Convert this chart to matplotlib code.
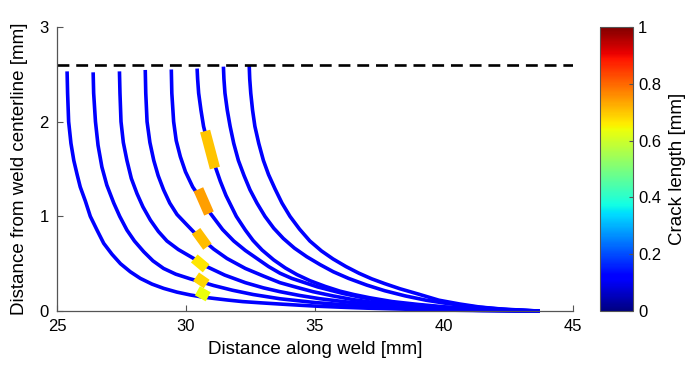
import numpy as np
import matplotlib
matplotlib.use("Agg")
import matplotlib.pyplot as plt
from matplotlib.collections import LineCollection
from matplotlib.colors import Normalize

plt.rcParams['font.family'] = ['Liberation Sans', 'DejaVu Sans']

# ---- data ----
c1_x = [25.39, 25.41, 25.45, 25.54, 25.65, 25.78, 25.90, 26.10, 26.29, 26.55, 26.81, 27.13, 27.46, 27.84, 28.23,
        28.68, 29.13, 29.65, 30.17, 30.60, 31.07, 31.6, 32.2, 32.9, 33.6, 34.4, 35.2, 36.1, 37.0, 38.5, 40.0, 41.5, 43.7]
c1_y = [2.53, 2.30, 2.00, 1.77, 1.59, 1.44, 1.31, 1.16, 1.00, 0.855, 0.715, 0.60, 0.50, 0.415, 0.345,
        0.285, 0.24, 0.20, 0.17, 0.15, 0.134, 0.117, 0.10, 0.087, 0.075, 0.062, 0.05, 0.04, 0.031, 0.02, 0.011, 0.005, 0.0]
c2_x = [26.40, 26.42, 26.49, 26.59, 26.74, 26.93, 27.20, 27.43, 27.71, 28.00, 28.36, 28.72, 29.13, 29.60, 30.17,
        30.70, 31.07, 31.8, 32.6, 33.64, 35.0, 36.8, 38.5, 40.0, 41.5, 43.7]
c2_y = [2.52, 2.30, 2.00, 1.75, 1.52, 1.33, 1.14, 1.00, 0.855, 0.74, 0.627, 0.53, 0.45, 0.39, 0.34,
        0.30, 0.27, 0.22, 0.175, 0.13, 0.09, 0.053, 0.03, 0.016, 0.007, 0.0]
c3_x = [27.42, 27.44, 27.48, 27.57, 27.71, 27.88, 28.10, 28.33, 28.62, 28.93, 29.26, 29.70, 30.30, 30.80, 31.50,
        32.30, 33.0, 33.64, 34.4, 35.2, 36.1, 37.0, 38.5, 40.0, 41.5, 43.7]
c3_y = [2.53, 2.30, 2.00, 1.78, 1.59, 1.40, 1.24, 1.10, 0.96, 0.84, 0.74, 0.65, 0.555, 0.47, 0.38,
        0.30, 0.245, 0.205, 0.165, 0.13, 0.10, 0.075, 0.045, 0.024, 0.01, 0.0]
c4_x = [28.42, 28.44, 28.49, 28.60, 28.75, 28.92, 29.13, 29.37, 29.65, 30.00, 30.30, 30.60, 31.07, 31.59, 32.30,
        33.0, 33.64, 34.3, 34.92, 35.7, 36.5, 37.3, 38.5, 40.0, 41.5, 43.7]
c4_y = [2.545, 2.30, 2.00, 1.78, 1.59, 1.43, 1.28, 1.14, 1.02, 0.92, 0.835, 0.765, 0.655, 0.555, 0.45,
        0.37, 0.30, 0.25, 0.205, 0.16, 0.12, 0.09, 0.06, 0.03, 0.012, 0.0]
c5_x = [29.43, 29.45, 29.52, 29.62, 29.78, 29.98, 30.26, 30.66, 30.95, 31.42, 31.85, 32.30, 32.75, 33.2, 33.64,
        34.1, 34.6, 35.1, 35.6, 36.1, 36.7, 37.3, 38.0, 39.0, 40.0, 41.5, 43.7]
c5_y = [2.55, 2.30, 2.00, 1.80, 1.63, 1.47, 1.31, 1.15, 1.03, 0.86, 0.74, 0.64, 0.555, 0.47, 0.40,
        0.345, 0.30, 0.255, 0.22, 0.185, 0.15, 0.12, 0.09, 0.062, 0.04, 0.016, 0.0]
c6_x = [30.43, 30.45, 30.49, 30.58, 30.68, 30.80, 30.93, 31.05, 31.33, 31.55, 31.95, 32.30, 32.60, 32.95, 33.4,
        33.85, 34.3, 34.81, 35.4, 35.97, 36.5, 37.13, 38.0, 39.0, 40.0, 41.5, 43.7]
c6_y = [2.56, 2.45, 2.30, 2.12, 1.95, 1.82, 1.705, 1.59, 1.37, 1.22, 1.00, 0.855, 0.745, 0.644, 0.54,
        0.455, 0.385, 0.32, 0.26, 0.21, 0.175, 0.14, 0.10, 0.07, 0.045, 0.02, 0.0]
c7_x = [31.45, 31.47, 31.51, 31.60, 31.71, 31.85, 32.03, 32.25, 32.48, 32.75, 33.06, 33.4, 33.77, 34.2, 34.68,
        35.2, 35.71, 36.3, 37.0, 37.7, 38.5, 39.3, 40.0, 41.0, 42.0, 43.7]
c7_y = [2.58, 2.45, 2.30, 2.12, 1.95, 1.77, 1.59, 1.43, 1.28, 1.14, 1.00, 0.875, 0.767, 0.665, 0.574,
        0.49, 0.415, 0.345, 0.275, 0.215, 0.16, 0.115, 0.085, 0.05, 0.025, 0.0]
c8_x = [32.45, 32.47, 32.51, 32.58, 32.67, 32.82, 33.00, 33.20, 33.45, 33.72, 34.03, 34.4, 34.8, 35.25, 35.7,
        36.2, 36.7, 37.2, 37.7, 38.3, 39.0, 39.8, 40.6, 41.4, 42.5, 43.7]
c8_y = [2.59, 2.45, 2.30, 2.12, 1.95, 1.77, 1.59, 1.44, 1.29, 1.14, 1.00, 0.865, 0.74, 0.635, 0.55,
        0.47, 0.40, 0.34, 0.29, 0.235, 0.18, 0.115, 0.075, 0.042, 0.015, 0.0]

curve_x = [c1_x, c2_x, c3_x, c4_x, c5_x, c6_x, c7_x, c8_x]
curve_y = [c1_y, c2_y, c3_y, c4_y, c5_y, c6_y, c7_y, c8_y]

# crack segments: start/end points and crack length [mm]
crack_x0 = [30.74, 30.48, 30.39, 30.32, 30.39, 30.44]
crack_y0 = [1.90, 1.285, 0.845, 0.556, 0.362, 0.214]
crack_x1 = [31.12, 30.89, 30.83, 30.78, 30.80, 30.86]
crack_y1 = [1.51, 1.03, 0.68, 0.451, 0.285, 0.151]
crack_len = [0.70, 0.74, 0.71, 0.667, 0.68, 0.635]

boundary_y = 2.6

x_ticks = [25, 30, 35, 40, 45]
y_ticks = [0, 1, 2, 3]
cb_ticks = [0, 0.2, 0.4, 0.6, 0.8, 1]
cb_labels = ['0', '0.2', '0.4', '0.6', '0.8', '1']

# ---- figure ----
fig = plt.figure(figsize=(6.92, 3.73), dpi=100)
ax = fig.add_axes([0.0824, 0.166, 0.7456, 0.762])

for xs, ys in zip(curve_x, curve_y):
    ax.plot(xs, ys, color='#0000FF', lw=2.6, solid_capstyle='butt', solid_joinstyle='round',
            zorder=2, clip_on=False)

ax.plot([25, 45], [boundary_y, boundary_y], color='black', lw=1.9, dashes=(4.5, 2.6), zorder=3)

segs = [[(a, b), (c, d)] for a, b, c, d in zip(crack_x0, crack_y0, crack_x1, crack_y1)]
norm = Normalize(0, 1)
lc = LineCollection(segs, cmap='jet', norm=norm, linewidths=7.5, capstyle='butt', zorder=4)
lc.set_array(np.array(crack_len))
ax.add_collection(lc)

ax.set_xlim(25, 45)
ax.set_ylim(0, 3)
ax.set_xticks(x_ticks)
ax.set_yticks(y_ticks)
ax.tick_params(direction='in', length=4, width=0.8, color='#555555', labelsize=12, pad=6)
for s in ['top', 'right']:
    ax.spines[s].set_visible(False)
for s in ['left', 'bottom']:
    ax.spines[s].set_color('#555555')
    ax.spines[s].set_linewidth(0.9)
    ax.spines[s].set_zorder(5)
ax.set_xlabel('Distance along weld [mm]', fontsize=13.5, labelpad=5)
ax.set_ylabel('Distance from weld centerline [mm]', fontsize=13.5, labelpad=8)

cax = fig.add_axes([0.867, 0.166, 0.048, 0.762])
cb = fig.colorbar(lc, cax=cax, ticks=cb_ticks)
cb.ax.tick_params(direction='in', length=3, width=0.8, color='#555555', labelsize=12)
cb.ax.set_yticklabels(cb_labels)
cb.outline.set_edgecolor('#555555')
cb.outline.set_linewidth(0.8)
cb.set_label('Crack length [mm]', fontsize=13.5, labelpad=6)

fig.savefig('out.png', dpi=100)
